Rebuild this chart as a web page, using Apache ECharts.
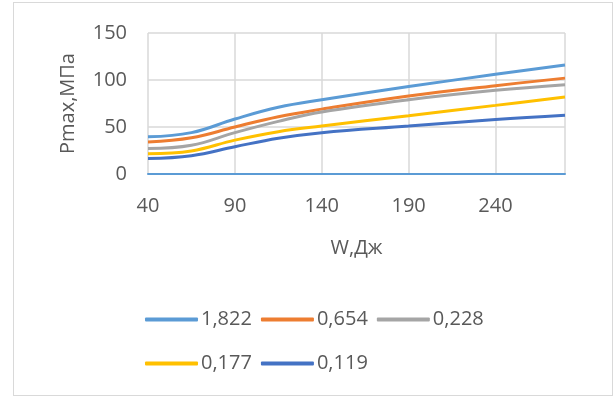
<!DOCTYPE html>
<html>
<head>
<meta charset="utf-8">
<script src="https://cdn.jsdelivr.net/npm/echarts@6/dist/echarts.min.js"></script>
<style>
  html, body { margin: 0; padding: 0; background: #fff; }
  #box {
    position: absolute; left: 13px; top: 2px;
    width: 598px; height: 392px;
    border: 1px solid #d9d9d9;
  }
  #chart { position: absolute; left: 0; top: 0; width: 613px; height: 396px; }
</style>
</head>
<body>
<div id="box"></div>
<div id="chart"></div>
<script>
// energy W, J
const energy = [40, 65, 90, 115, 140, 190, 240, 280]

// Pmax, MPa for each parameter value
const s1822 = [39.5, 44, 58.5, 71, 79, 93, 106, 116]
const s0654 = [34, 38.5, 50, 61, 69, 83, 94, 102]
const s0228 = [27, 30.5, 44, 56, 66, 79, 89, 95]
const s0177 = [21.5, 24.5, 36, 45, 51, 62, 73, 82]
const s0119 = [16.5, 19.5, 29, 38, 44, 51, 58, 62.5]

const names = ['1,822', '0,654', '0,228', '0,177', '0,119']
const colors = ['#5b9bd5', '#ed7d31', '#a5a5a5', '#ffc000', '#4472c4']
const values = [s1822, s0654, s0228, s0177, s0119]

const font = '"Open Sans", sans-serif'
const txt = '#595959'

const chart = echarts.init(document.getElementById('chart'))

chart.setOption({
  animation: false,
  color: colors,
  textStyle: { fontFamily: font },
  grid: { left: 148, right: 48, top: 33, bottom: 222, containLabel: false },
  legend: {
    left: 140,
    top: 297,
    width: 380,
    itemWidth: 53,
    itemHeight: 4,
    itemGap: 9,
    icon: 'roundRect',
    textStyle: { fontSize: 20, lineHeight: 35, color: txt, fontFamily: font, padding: [0, 0, 0, -2] },
    data: names
  },
  xAxis: {
    type: 'value',
    min: 40,
    max: 280,
    interval: 50,
    name: 'W,Дж',
    nameLocation: 'middle',
    nameGap: 64,
    nameTextStyle: { fontSize: 20, color: txt },
    axisLine: { show: true, onZero: false, lineStyle: { color: '#5b9bd5', width: 2 } },
    axisTick: { show: false },
    axisLabel: {
      fontSize: 20, color: txt, margin: 22,
      formatter: v => (v === 280 ? '' : v)
    },
    splitLine: { show: true, lineStyle: { color: '#d9d9d9', width: 1.5 } }
  },
  yAxis: {
    type: 'value',
    min: 0,
    max: 150,
    interval: 50,
    name: 'Pmax,МПа',
    nameLocation: 'middle',
    nameGap: 70,
    nameTextStyle: { fontSize: 20, color: txt },
    axisLine: { show: false },
    axisTick: { show: false },
    axisLabel: { fontSize: 20, color: txt, margin: 21 },
    splitLine: { lineStyle: { color: '#d9d9d9', width: 1.5 } }
  },
  series: names.map((n, i) => ({
    name: n,
    type: 'line',
    smooth: 0.4,
    showSymbol: false,
    symbol: 'none',
    lineStyle: { width: 3, color: colors[i] },
    data: energy.map((x, k) => [x, values[i][k]])
  }))
})
</script>
</body>
</html>
